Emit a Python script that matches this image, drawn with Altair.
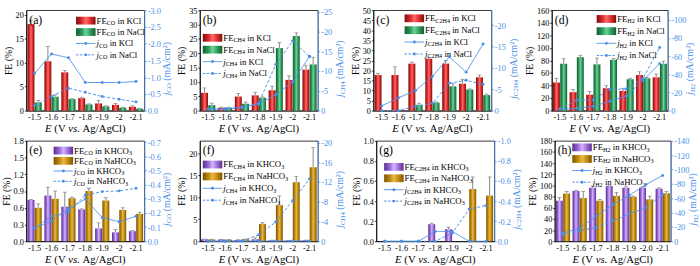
import altair as alt
import pandas as pd

FONT = "Liberation Serif"
BLUE = "#4a8fe7"

E_STD = ["-1.5", "-1.6", "-1.7", "-1.8", "-1.9", "-2", "-2.1"]
E_H = ["-1.5", "-1.6", "-1.7", "-1.8", "-1.9", "-2.0", "-2.1"]

# (a) CO in chlorides
a_fe_kcl = [18.1, 10.3, 8.0, 2.6, 1.5, 1.2, 0.8]
a_err_kcl = [0.8, 3.1, 0.4, 0.2, 0.6, 0.3, 0.2]
a_fe_nacl = [1.7, 2.9, 2.4, 1.3, 0.9, 0.6, 0.4]
a_err_nacl = [0.4, 0.4, 0.1, 0.1, 0.1, 0.1, 0.1]
a_j_kcl = [-1.11, -1.69, -1.58, -0.84, -0.84, -0.84, -0.87]
a_j_nacl = [-0.15, -0.42, -0.67, -0.55, -0.42, -0.34, -0.26]

# (b) CH4 in chlorides
b_fe_kcl = [6.2, 1.0, 4.9, 5.3, 7.1, 10.7, 14.3]
b_err_kcl = [1.7, 0.2, 1.1, 1.1, 1.4, 1.4, 1.5]
b_fe_nacl = [1.9, 1.0, 2.4, 4.5, 21.8, 26.0, 16.1]
b_err_nacl = [0.7, 0.2, 0.6, 0.3, 1.9, 1.1, 2.5]
b_j_kcl = [-0.4, -0.4, -0.9, -1.6, -4.0, -7.3, -13.7]
b_j_nacl = [-0.4, -0.4, -0.7, -2.0, -11.7, -17.6, -13.7]

# (c) C2H4 in chlorides
c_fe_kcl = [17.7, 17.7, 23.4, 25.8, 23.4, 13.4, 16.6]
c_err_kcl = [0.8, 4.1, 0.8, 0.5, 1.6, 2.2, 1.1]
c_fe_nacl = [0.0, 0.0, 2.9, 4.0, 12.1, 10.5, 7.7]
c_err_nacl = [0.0, 0.0, 0.8, 0.3, 1.3, 0.3, 0.5]
c_j_kcl = [-1.1, -3.0, -4.7, -8.0, -12.6, -9.0, -15.6]
c_j_nacl = [0.0, 0.0, -1.0, -1.7, -6.4, -7.1, -6.1]

# (d) H2 in chlorides
d_fe_kcl = [44.8, 29.4, 25.3, 35.6, 31.4, 56.7, 53.1]
d_err_kcl = [6.7, 4.1, 5.1, 4.1, 4.2, 5.2, 5.1]
d_fe_nacl = [74.7, 85.1, 73.7, 80.9, 50.0, 51.5, 74.7]
d_err_nacl = [8.0, 3.0, 10.0, 2.0, 1.5, 1.5, 4.0]
d_j_kcl = [-1.8, -2.5, -4.6, -10.4, -16.1, -33.2, -51.8]
d_j_nacl = [-1.8, -11.4, -11.8, -23.2, -23.9, -35.7, -69.6]

# (e) CO in bicarbonates
e_fe_k = [0.74, 0.82, 0.62, 0.57, 0.23, 0.16, 0.18]
e_err_k = [0.01, 0.15, 0.26, 0.01, 0.10, 0.05, 0.01]
e_fe_na = [0.60, 0.76, 0.77, 0.90, 0.73, 0.56, 0.49]
e_err_na = [0.07, 0.14, 0.02, 0.05, 0.05, 0.04, 0.03]
e_j_k = [-0.092, -0.144, -0.229, -0.298, -0.167, -0.138, -0.177]
e_j_na = [-0.092, -0.177, -0.206, -0.326, -0.351, -0.356, -0.374]

# (f) CH4 in bicarbonates
f_fe_k = [0.45, 0.40, 0.30, 0.45, 0.20, 0.15, 0.20]
f_err_k = [0.05, 0.05, 0.05, 0.30, 0.05, 0.05, 0.05]
f_fe_na = [0.40, 0.35, 0.45, 3.9, 8.2, 13.4, 16.8]
f_err_na = [0.05, 0.05, 0.05, 0.3, 2.1, 1.3, 4.5]
f_j_k = [-0.03, -0.03, -0.03, -0.05, -0.04, -0.05, -0.08]
f_j_na = [0.0, 0.0, -0.05, -1.3, -3.9, -8.2, -12.6]

# (g) C2H4 in bicarbonates
g_fe_k = [0.0, 0.0, 0.0, 0.17, 0.12, 0.0, 0.0]
g_err_k = [0.0, 0.0, 0.0, 0.01, 0.02, 0.0, 0.0]
g_fe_na = [0.0, 0.0, 0.0, 0.0, 0.0, 0.52, 0.455]
g_err_na = [0.0, 0.0, 0.0, 0.0, 0.0, 0.12, 0.185]
g_j_k = [0.0, 0.0, 0.0, -0.097, -0.097, 0.0, 0.0]
g_j_na = [0.0, 0.0, 0.0, 0.0, -0.08, -0.32, -0.355]

# (h) H2 in bicarbonates
h_fe_k = [72.7, 90.1, 95.9, 98.8, 95.9, 95.9, 94.2]
h_err_k = [5.8, 1.2, 2.9, 0.6, 2.9, 1.5, 1.5]
h_fe_na = [85.5, 77.3, 72.7, 81.4, 79.7, 75.0, 86.0]
h_err_na = [3.5, 12.0, 2.3, 6.0, 1.2, 5.8, 3.0]
h_j_k = [-11.3, -18.1, -34.8, -51.0, -64.1, -79.0, -91.7]
h_j_na = [-9.0, -14.5, -19.4, -28.5, -38.4, -46.5, -65.5]

PLOT_H = 103

# Times/Liberation Serif advance widths (per 1000 em) for laying out mixed-style text
CW = {" ": 250, "(": 333, ")": 333, "/": 278, ".": 250, "2": 500, "3": 500, "4": 500, "A": 722,
      "C": 667, "E": 611, "F": 556, "H": 722, "K": 722, "N": 722, "O": 722, "V": 722, "a": 444,
      "c": 444, "g": 500, "i": 278, "j": 278, "l": 278, "m": 778, "n": 500, "s": 389, "v": 444,
      "\u00b2": 300}


def tw(s, size):
    return sum(CW.get(ch, 500) for ch in s) * size / 1000.0


def grad(dark, main, light):
    return {"gradient": "linear", "x1": 0, "x2": 1, "y1": 0, "y2": 0,
            "stops": [{"offset": 0, "color": dark}, {"offset": 0.3, "color": main},
                      {"offset": 0.5, "color": light}, {"offset": 0.75, "color": main},
                      {"offset": 1, "color": dark}]}


RED = ("#7a0e0e", "#dc2a2a", "#ff6a6a")
GREEN = ("#145a32", "#2e9a5a", "#6fd39a")
PURPLE = ("#5a2d91", "#9b6bd6", "#d2b4ff")
GOLD = ("#7a5400", "#c08a0c", "#e8b84a")


def minus_fix(fmt):
    return "replace(format(datum.value, '%s'), '\u2212', '-')" % fmt


def txt(s, x, y, size, style="normal", color="black", angle=None):
    kw = dict(align="left", baseline="middle", font=FONT, fontSize=size, fontStyle=style, color=color)
    if angle is not None:
        kw["angle"] = angle
    return alt.Chart(pd.DataFrame({"t": [s]})).mark_text(**kw).encode(
        text="t:N", x=alt.value(x), y=alt.value(y))


def seg_len(segs, size):
    return sum(tw(s, size * 0.7 if k == "s" else size) for s, k in segs)


def rich(segs, x, y, size, color="black", angle=None):
    """segments: (text, kind) with kind n=normal, i=italic, s=subscript"""
    layers = []
    pos = 0.0
    for s, kind in segs:
        fs = size * 0.7 if kind == "s" else size
        lead = len(s) - len(s.lstrip(" "))
        pos += tw(" " * lead, fs)
        body = s.lstrip(" ")
        shift = size * 0.28 if kind == "s" else 0
        style = "italic" if kind == "i" else "normal"
        if angle is None:
            layers.append(txt(body, x + pos, y + shift, fs, style, color))
        else:  # rotated 270: reading upward, "down" points to +x
            layers.append(txt(body, x + shift, y - pos, fs, style, color, angle))
        pos += tw(body, fs)
    return layers


def panel(letter, cats, fe1, er1, fe2, er2, j1, j2, prod, salts, cols, fe_dom, fe_ticks, fe_fmt,
          j_dom, j_ticks, j_fmt, leg_x, leg_y, row_step, width):
    rows = []
    for i, c in enumerate(cats):
        rows.append({"E": c, "s": "A", "fe": fe1[i], "top": fe1[i] + er1[i], "err": er1[i]})
        rows.append({"E": c, "s": "B", "fe": fe2[i], "top": fe2[i] + er2[i], "err": er2[i]})
    bdf = pd.DataFrame(rows)
    ldf = pd.DataFrame({"E": cats + cats, "lab": ["j1"] * len(cats) + ["j2"] * len(cats),
                        "j": j1 + j2})

    x = alt.X("E:N", sort=cats,
              scale=alt.Scale(domain=cats, paddingInner=0.16, paddingOuter=0.07),
              axis=alt.Axis(title=None, labelAngle=0, labelFontSize=8.5, ticks=False, labelPadding=2))
    xo = alt.XOffset("s:N", scale=alt.Scale(domain=["A", "B"], paddingInner=0.04))
    yaxis = alt.Axis(title="FE (%)", values=fe_ticks, format=fe_fmt)
    yscale = alt.Scale(domain=fe_dom, nice=False, zero=False)

    base = alt.Chart(bdf)
    bar1 = base.transform_filter("datum.s == 'A'").mark_bar(fill=grad(*cols[0])).encode(
        x=x, xOffset=xo, y=alt.Y("fe:Q", scale=yscale, axis=yaxis))
    bar2 = base.transform_filter("datum.s == 'B'").mark_bar(fill=grad(*cols[1])).encode(
        x=x, xOffset=xo, y=alt.Y("fe:Q", scale=yscale, axis=yaxis))
    errs = base.transform_filter("datum.err > 0").mark_rule(color="#666666", strokeWidth=0.8).encode(
        x=x, xOffset=xo, y=alt.Y("fe:Q", scale=yscale, axis=yaxis), y2="top:Q")
    caps = base.transform_filter("datum.err > 0").mark_tick(color="#666666", thickness=0.8, size=4).encode(
        x=x, xOffset=xo, y=alt.Y("top:Q", scale=yscale, axis=yaxis))
    deco = [txt(letter, 3, 10, 12)]

    # legend drawn inside the panel
    one = pd.DataFrame({"k": [0]})
    for k in range(4):
        cy = leg_y + 5 + k * row_step
        salt_main, salt_sub = salts[k % 2]
        head = [("FE", "n")] if k < 2 else [("j", "i")]
        segs = head + [(prod, "s"), (" in " + salt_main, "n")] + ([(salt_sub, "s")] if salt_sub else [])
        deco += rich(segs, leg_x + 21, cy, 9)
        if k < 2:
            deco.append(alt.Chart(one).mark_rect(fill=grad(*cols[k])).encode(
                x=alt.value(leg_x), x2=alt.value(leg_x + 20), y=alt.value(cy - 4), y2=alt.value(cy + 4)))
        else:
            deco.append(alt.Chart(one).mark_rule(color=BLUE, strokeWidth=1,
                                                 strokeDash=[1, 0] if k == 2 else [2.5, 1.5]).encode(
                x=alt.value(leg_x), x2=alt.value(leg_x + 20), y=alt.value(cy)))
            deco.append(alt.Chart(one).mark_point(filled=True, color=BLUE, size=9, opacity=1).encode(
                x=alt.value(leg_x + 10), y=alt.value(cy)))

    # right-axis title with subscript, rotated
    tsegs = [("j", "i"), (prod, "s"), (" (mA/cm\u00b2)", "n")]
    L = seg_len(tsegs, 10)
    deco += rich(tsegs, width + 23, 60 + L / 2, 10, color=BLUE, angle=270)

    # x-axis title with italic E and vs.
    xsegs = [("E", "i"), (" (V ", "n"), ("vs.", "i"), (" Ag/AgCl)", "n")]
    XL = seg_len(xsegs, 11)
    deco += rich(xsegs, width / 2 - XL / 2, PLOT_H + 19, 11)

    left = alt.layer(bar1, bar2, errs, caps, *deco)

    yj = alt.Y("j:Q", scale=alt.Scale(domain=j_dom, nice=False, zero=False),
               axis=alt.Axis(orient="right", title=None, values=j_ticks, labelExpr=minus_fix(j_fmt),
                             domainColor=BLUE, tickColor=BLUE, labelColor=BLUE))
    lines = alt.Chart(ldf).mark_line(strokeWidth=1, color=BLUE,
                                     point=alt.OverlayMarkDef(filled=True, size=9, color=BLUE)).encode(
        x=x, y=yj,
        detail="lab:N",
        strokeDash=alt.StrokeDash("lab:N", scale=alt.Scale(domain=["j1", "j2"], range=[[1, 0], [3, 2]]),
                                  legend=None))
    return alt.layer(left, lines).resolve_scale(y="independent").properties(width=width, height=PLOT_H)


CL = [("KCl", None), ("NaCl", None)]
BC = [("KHCO", "3"), ("NaHCO", "3")]

pa = panel("(a)", E_STD, a_fe_kcl, a_err_kcl, a_fe_nacl, a_err_nacl, a_j_kcl, a_j_nacl, "CO", CL,
           [RED, GREEN], [0, 21], [0, 5, 10, 15, 20], "d", [0, -3.0],
           [0, -0.5, -1.0, -1.5, -2.0, -2.5, -3.0], ".1f", 51, 5.7, 11.7, 121)
pb = panel("(b)", E_STD, b_fe_kcl, b_err_kcl, b_fe_nacl, b_err_nacl, b_j_kcl, b_j_nacl, "CH4", CL,
           [RED, GREEN], [0, 35], [0, 5, 10, 15, 20, 25, 30, 35], "d", [0, -25.4],
           [0, -5, -10, -15, -20, -25], "d", 3, 23.3, 12.2, 121)
pc = panel("(c)", E_STD, c_fe_kcl, c_err_kcl, c_fe_nacl, c_err_nacl, c_j_kcl, c_j_nacl, "C2H4", CL,
           [RED, GREEN], [0, 50], [0, 5, 10, 15, 20, 25, 30, 35, 40, 45, 50], "d", [0, -23.5],
           [0, -5, -10, -15, -20], "d", 32, 3.3, 12.2, 121)
pd_ = panel("(d)", E_STD, d_fe_kcl, d_err_kcl, d_fe_nacl, d_err_nacl, d_j_kcl, d_j_nacl, "H2", CL,
            [RED, GREEN], [0, 160], [0, 20, 40, 60, 80, 100, 120, 140, 160], "d", [0, -110.7],
            [0, -20, -40, -60, -80, -100], "d", 46, 4, 12.5, 119)
pe = panel("(e)", E_STD, e_fe_k, e_err_k, e_fe_na, e_err_na, e_j_k, e_j_na, "CO", BC,
           [PURPLE, GOLD], [0, 1.8], [0, 0.3, 0.6, 0.9, 1.2, 1.5, 1.8], ".1f", [0, -0.71],
           [0, -0.1, -0.2, -0.3, -0.4, -0.5, -0.6, -0.7], ".1f", 28, 5, 10.5, 121)
pf = panel("(f)", E_STD, f_fe_k, f_err_k, f_fe_na, f_err_na, f_j_k, f_j_na, "CH4", BC,
           [PURPLE, GOLD], [0, 22.8], [0, 5, 10, 15, 20], "d", [0, -20.3],
           [0, -4, -8, -12, -16, -20], "d", 3, 19.3, 12.2, 121)
pg = panel("(g)", E_STD, g_fe_k, g_err_k, g_fe_na, g_err_na, g_j_k, g_j_na, "C2H4", BC,
           [PURPLE, GOLD], [0, 1.0], [0, 0.2, 0.4, 0.6, 0.8, 1.0], ".1f", [0, -1.0],
           [0, -0.2, -0.4, -0.6, -0.8, -1.0], ".1f", 8, 21.7, 11.7, 121)
ph = panel("(h)", E_H, h_fe_k, h_err_k, h_fe_na, h_err_na, h_j_k, h_j_na, "H2", BC,
           [PURPLE, GOLD], [0, 180], [0, 20, 40, 60, 80, 100, 120, 140, 160, 180], "d", [0, -140],
           [0, -20, -40, -60, -80, -100, -120, -140], "d", 18, 1.7, 11.9, 119)

row1 = alt.hconcat(pa, pb, pc, pd_, spacing=3)
row2 = alt.hconcat(pe, pf, pg, ph, spacing=3)

chart = alt.vconcat(row1, row2, spacing=1).properties(
    padding={"left": 0, "top": 2, "right": 0, "bottom": 0}, background="white"
).configure(font=FONT).configure_view(stroke="black", strokeWidth=0.8).configure_axis(
    labelFont=FONT, titleFont=FONT, labelFontSize=8.5, titleFontSize=10, labelColor="black",
    titleColor="black", domainColor="black", tickColor="black", tickSize=2, labelPadding=1,
    titlePadding=2, grid=False, titleFontWeight="normal", domainWidth=0.8, tickWidth=0.8
)

chart.save("out.html", embed_options={"renderer": "svg", "actions": False})
